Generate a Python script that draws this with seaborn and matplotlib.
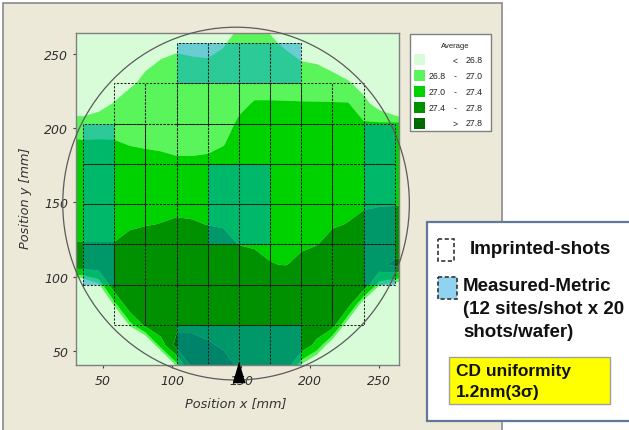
import numpy as np
import matplotlib
matplotlib.use('Agg')
import matplotlib.pyplot as plt
from matplotlib.patches import Rectangle, Ellipse
import seaborn as sns

# Average CD (nm) on a regular grid.
# One list per grid column (x = 24.2 ... 272.8 mm, step 11.3),
# values from the bottom row (y = 26.85 mm) to the top (y = 270.75 mm, step 13.55).
grid_x0, grid_dx = 24.2, 11.3
grid_y0, grid_dy = 26.85, 13.55
cd_columns = [
    [24.5, 24.5, 24.5, 24.5, 24.64, 26.27, 27.68, 27.41, 27.33, 27.26, 27.18, 27.11, 27.04, 26.89, 26.68, 26.48, 26.27, 26.06, 26.0],
    [24.5, 24.5, 24.5, 24.5, 24.76, 26.39, 27.68, 27.41, 27.33, 27.25, 27.18, 27.11, 27.03, 26.88, 26.66, 26.44, 26.23, 26.01, 26.0],
    [24.5, 24.5, 24.5, 24.5, 25.6, 26.74, 27.68, 27.41, 27.33, 27.25, 27.18, 27.10, 27.03, 26.90, 26.73, 26.56, 26.39, 26.22, 26.05],
    [24.5, 24.5, 24.5, 25.7, 26.85, 27.7, 27.68, 27.41, 27.33, 27.25, 27.18, 27.10, 27.02, 26.92, 26.81, 26.70, 26.59, 26.47, 26.36],
    [24.5, 24.5, 25.71, 26.86, 27.7, 27.7, 27.7, 27.52, 27.35, 27.26, 27.17, 27.09, 26.99, 26.93, 26.86, 26.78, 26.71, 26.64, 26.57],
    [24.5, 24.5, 26.13, 27.5, 27.7, 27.7, 27.7, 27.61, 27.38, 27.27, 27.17, 27.06, 26.98, 26.93, 26.88, 26.83, 26.78, 26.73, 26.68],
    [24.5, 25.78, 27.19, 27.7, 27.7, 27.7, 27.7, 27.68, 27.41, 27.28, 27.17, 27.05, 26.97, 26.93, 26.89, 26.85, 26.81, 26.76, 26.72],
    [26.5, 26.86, 27.95, 27.7, 27.7, 27.7, 27.7, 27.7, 27.46, 27.29, 27.16, 27.02, 26.97, 26.93, 26.89, 26.86, 26.82, 26.78, 26.74],
    [27.95, 27.95, 27.95, 27.7, 27.7, 27.7, 27.7, 27.7, 27.44, 27.28, 27.15, 27.02, 26.97, 26.93, 26.89, 26.85, 26.81, 26.78, 26.74],
    [27.95, 27.95, 27.85, 27.65, 27.7, 27.7, 27.7, 27.65, 27.39, 27.27, 27.15, 27.03, 26.97, 26.93, 26.89, 26.85, 26.81, 26.77, 26.73],
    [27.95, 27.95, 27.75, 27.7, 27.7, 27.7, 27.7, 27.56, 27.36, 27.27, 27.17, 27.08, 26.99, 26.95, 26.91, 26.87, 26.83, 26.79, 26.76],
    [27.75, 27.75, 27.7, 27.7, 27.7, 27.7, 27.66, 27.39, 27.33, 27.27, 27.21, 27.14, 27.08, 27.02, 26.97, 26.92, 26.88, 26.84, 26.79],
    [27.7, 27.7, 27.7, 27.7, 27.7, 27.7, 27.5, 27.37, 27.32, 27.26, 27.21, 27.16, 27.11, 27.06, 27.01, 26.95, 26.90, 26.84, 26.79],
    [27.7, 27.7, 27.7, 27.7, 27.7, 27.68, 27.41, 27.35, 27.31, 27.26, 27.21, 27.16, 27.11, 27.06, 27.01, 26.95, 26.89, 26.83, 26.76],
    [27.7, 27.7, 27.7, 27.7, 27.7, 27.67, 27.39, 27.35, 27.30, 27.25, 27.21, 27.16, 27.11, 27.06, 27.01, 26.94, 26.86, 26.77, 26.69],
    [24.5, 26.75, 27.7, 27.7, 27.7, 27.7, 27.47, 27.36, 27.31, 27.26, 27.21, 27.16, 27.11, 27.06, 27.01, 26.92, 26.81, 26.71, 26.61],
    [24.5, 26.28, 27.26, 27.7, 27.7, 27.7, 27.6, 27.39, 27.33, 27.28, 27.22, 27.17, 27.12, 27.06, 27.01, 26.91, 26.795, 26.69, 26.59],
    [24.5, 25.3, 26.46, 27.6, 27.7, 27.7, 27.7, 27.51, 27.37, 27.31, 27.25, 27.19, 27.13, 27.07, 27.01, 26.88, 26.74, 26.60, 26.46],
    [24.5, 24.5, 25.48, 26.51, 27.56, 27.7, 27.7, 27.67, 27.41, 27.33, 27.27, 27.20, 27.14, 27.07, 27.01, 26.83, 26.64, 26.46, 26.27],
    [24.5, 24.5, 24.5, 25.2, 26.51, 27.7, 27.7, 27.7, 27.52, 27.35, 27.27, 27.19, 27.10, 27.02, 26.87, 26.70, 26.53, 26.36, 26.19],
    [24.5, 24.5, 24.5, 24.5, 25.24, 26.86, 27.7, 27.7, 27.59, 27.37, 27.28, 27.19, 27.10, 27.025, 26.69, 26.36, 26.02, 26.0, 26.0],
    [24.5, 24.5, 24.5, 24.5, 24.9, 26.64, 27.9, 27.55, 27.62, 27.38, 27.29, 27.20, 27.10, 27.04, 26.45, 26.0, 26.0, 26.0, 26.0],
    [24.5, 24.5, 24.5, 24.5, 24.9, 26.5, 27.9, 27.55, 27.64, 27.39, 27.29, 27.20, 27.10, 27.1, 25.75, 25.5, 25.5, 25.5, 25.5],
]

# contour classes of the "Average" key
level_edges = [24.0, 26.8, 27.0, 27.4, 27.8, 29.0]
level_lo = ['', '26.8', '27.0', '27.4', '']
level_sign = ['<', '-', '-', '-', '>']
level_hi = ['26.8', '27.0', '27.4', '27.8', '27.8']
level_colors = ['#d8fcd8', '#5af55a', '#00d200', '#009100', '#006900']

# shot layout: 8 rows of shots, first/last shot column in each row
shot_w, shot_h = 22.6, 27.1
shot_x0, shot_y0 = 35.5, 40.4
row_first = [3, 1, 0, 0, 0, 0, 1, 3]
row_last = [6, 8, 9, 9, 9, 9, 8, 6]
measured_shots = [(0, 3), (0, 4), (0, 5), (0, 6),
                  (2, 0), (2, 9),
                  (3, 0), (3, 4), (3, 5), (3, 9),
                  (4, 0), (4, 4), (4, 5), (4, 9),
                  (5, 0), (5, 9),
                  (7, 3), (7, 4), (7, 5), (7, 6)]

wafer_center = (146.4, 149.2)
wafer_size = (251.2, 237.4)
notch_x, notch_y = 148.5, 35.9
ticks = [50, 100, 150, 200, 250]

sns.set_theme(style='white')
plt.rcParams['font.family'] = ['DejaVu Sans']

W, H = 629, 431
fig = plt.figure(figsize=(W / 100, H / 100), dpi=100)
fig.patch.set_facecolor('white')

# beige panel behind the map
bg = fig.add_axes([0, 0, 1, 1], zorder=-1)
bg.set_xlim(0, W)
bg.set_ylim(H, 0)
bg.axis('off')
bg.add_patch(Rectangle((3, 4), 499, 440, facecolor='#ece9d8', edgecolor='#8a8a8a', lw=1.2))

ax = fig.add_axes([76 / W, 1 - 366 / H, 323 / W, 332 / H])
Z = np.array(cd_columns).T
xs = grid_x0 + grid_dx * np.arange(Z.shape[1])
ys = grid_y0 + grid_dy * np.arange(Z.shape[0])
ax.set_facecolor(level_colors[0])
ax.contourf(xs, ys, Z, levels=level_edges, colors=level_colors, antialiased=True)

overlay = sns.color_palette(['#00a0d2'])[0]
for r in range(len(row_first)):
    for c in range(row_first[r], row_last[r] + 1):
        x = shot_x0 + c * shot_w
        y = shot_y0 + r * shot_h
        if (r, c) in measured_shots:
            ax.add_patch(Rectangle((x, y), shot_w, shot_h, facecolor=overlay, alpha=0.5,
                                   edgecolor='none'))
        ax.add_patch(Rectangle((x, y), shot_w, shot_h, fill=False, edgecolor='#1e1e1e',
                               lw=0.75, ls=(0, (2, 1.5))))

ax.add_patch(Ellipse(wafer_center, wafer_size[0], wafer_size[1], fill=False,
                     edgecolor='#5a5a5a', lw=0.9, clip_on=False, zorder=5))
ax.plot([notch_x], [notch_y], marker=[(0, 1), (-0.58, -1), (0.58, -1)], ms=14.4,
        color='black', clip_on=False, zorder=6)

ax.set_xlim(30.4, 264.5)
ax.set_ylim(40.6, 264)
ax.set_xticks(ticks)
ax.set_yticks(ticks)
ax.set_xticklabels([str(t) for t in ticks], fontstyle='italic')
ax.set_yticklabels([str(t) for t in ticks], fontstyle='italic')
ax.tick_params(bottom=True, left=True, direction='out', length=2.5, width=0.8,
               color='#404040', labelsize=9, labelcolor='#303030')
ax.tick_params(axis='x', pad=4)
ax.tick_params(axis='y', pad=3)
for s in ax.spines.values():
    s.set_color('#808080')
    s.set_linewidth(1)
ax.set_xlabel('Position x [mm]', fontstyle='italic', fontsize=9.3, color='#333333')
ax.set_ylabel('Position y [mm]', fontstyle='italic', fontsize=9.3, color='#333333')
ax.xaxis.set_label_coords(0.495, -0.093)
ax.yaxis.set_label_coords(-0.136, 0.505)

# overlay in pixel coordinates: colour key and the annotation box
ov = fig.add_axes([0, 0, 1, 1], zorder=3)
ov.set_xlim(0, W)
ov.set_ylim(H, 0)
ov.axis('off')
ov.patch.set_alpha(0)

ov.add_patch(Rectangle((410, 35), 81, 97, facecolor='white', edgecolor='#808080', lw=1))
ov.text(455, 46.5, 'Average', fontsize=5.5, ha='center', va='center', color='#222222',
        family='Liberation Sans')
for k, col in enumerate(level_colors):
    yc = 60.8 + k * 15.8
    ov.add_patch(Rectangle((413.5, yc - 5.5), 11, 11, facecolor=col, edgecolor='none'))
    ov.text(446, yc, level_lo[k], fontsize=6.3, ha='right', va='center', color='#222222',
            family='Liberation Sans')
    ov.text(455, yc, level_sign[k], fontsize=6.3, ha='center', va='center', color='#222222',
            family='Liberation Sans')
    ov.text(483, yc, level_hi[k], fontsize=6.3, ha='right', va='center', color='#222222',
            family='Liberation Sans')

ov.add_patch(Rectangle((427, 223), 240, 199, facecolor='white', edgecolor='#60789a', lw=1.6,
                       clip_on=False))
ov.add_patch(Rectangle((437.5, 239.5), 16, 22, fill=False, edgecolor='#333333', lw=1.2,
                       ls=(0, (2.5, 1.5))))
ov.add_patch(Rectangle((437.5, 277.5), 19, 22, facecolor='#8fd3f0', edgecolor='#333333', lw=1.2,
                       ls=(0, (2.5, 1.5))))
box_font = dict(family='Liberation Sans', fontweight='bold', color='#111111', va='center')
ov.text(470, 250, 'Imprinted-shots', fontsize=13.5, **box_font)
ov.text(463, 287, 'Measured-Metric', fontsize=13.5, **box_font)
ov.text(463, 310, '(12 sites/shot x 20', fontsize=13.5, **box_font)
ov.text(463, 333, 'shots/wafer)', fontsize=13.5, **box_font)
ov.add_patch(Rectangle((449, 358), 161, 47, facecolor='#ffff00', edgecolor='#a0a0a0', lw=1))
ov.text(456, 372, 'CD uniformity', fontsize=12.5, **box_font)
ov.text(456, 393, '1.2nm(3σ)', fontsize=12.5, **box_font)

fig.savefig('out.png', dpi=100)
